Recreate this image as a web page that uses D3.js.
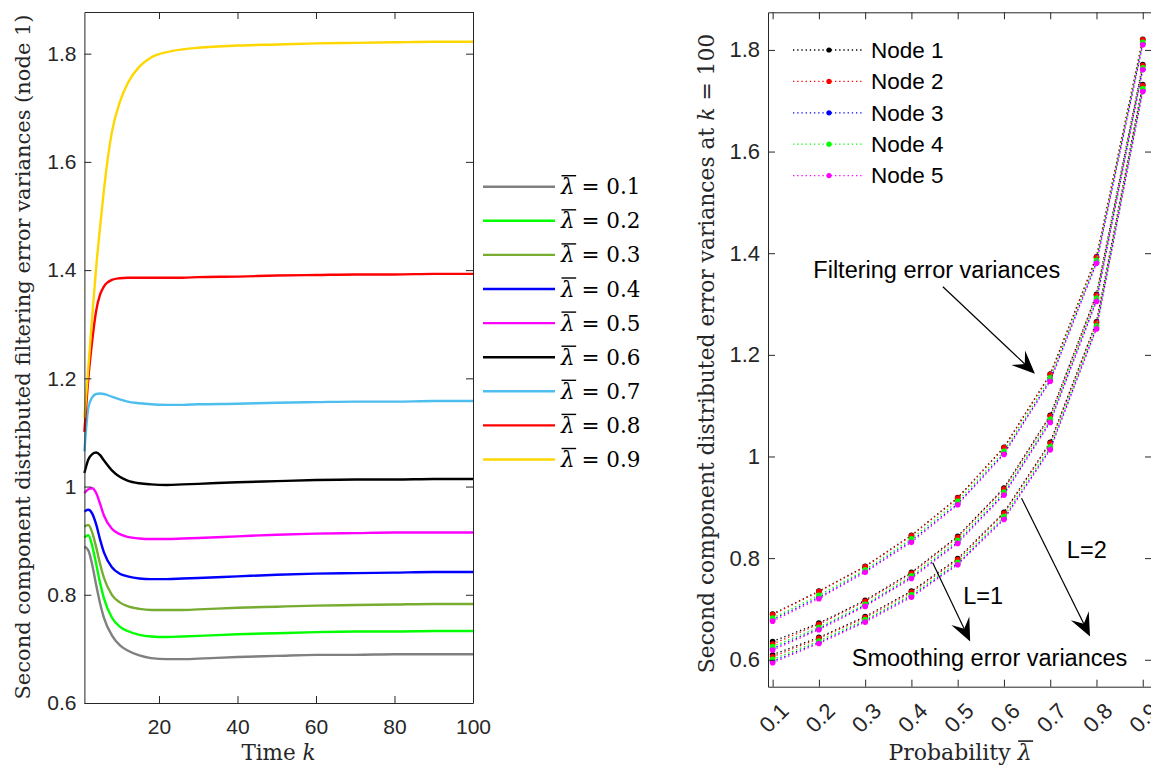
<!DOCTYPE html>
<html>
<head>
<meta charset="utf-8">
<script src="https://cdn.jsdelivr.net/npm/d3@7"></script>
<style>
  html, body { margin: 0; padding: 0; background: #fff; }
  svg { display: block; }
</style>
</head>
<body>
<svg id="chart" width="1151" height="767"></svg>
<script>
// ---------- Left panel: filtering error variance of node 1 over time ----------
const timeSteps = [1, 2, 3, 4, 5, 6, 8, 10, 12, 15, 18, 22, 26, 30, 40, 50, 60, 70, 80, 90, 100];
const lambdaLabels = ['0.1', '0.2', '0.3', '0.4', '0.5', '0.6', '0.7', '0.8', '0.9'];
const lambdaColors = ['#808080', '#00ff00', '#77ac30', '#0000ff', '#ff00ff', '#000000', '#4dbeee', '#ff0000', '#ffd700'];

const varLam01 = [0.889, 0.882, 0.855, 0.818, 0.784, 0.757, 0.725, 0.707, 0.697, 0.688, 0.683, 0.681, 0.681, 0.682, 0.685, 0.687, 0.689, 0.689, 0.690, 0.690, 0.690];
const varLam02 = [0.906, 0.910, 0.890, 0.857, 0.822, 0.793, 0.758, 0.741, 0.733, 0.726, 0.723, 0.722, 0.723, 0.724, 0.727, 0.729, 0.731, 0.732, 0.732, 0.733, 0.733];
const varLam03 = [0.926, 0.929, 0.915, 0.888, 0.857, 0.831, 0.800, 0.786, 0.779, 0.774, 0.772, 0.772, 0.772, 0.773, 0.776, 0.778, 0.780, 0.781, 0.782, 0.783, 0.783];
const varLam04 = [0.954, 0.957, 0.950, 0.930, 0.902, 0.878, 0.851, 0.839, 0.834, 0.830, 0.829, 0.829, 0.830, 0.831, 0.834, 0.837, 0.839, 0.840, 0.841, 0.842, 0.842];
const varLam05 = [0.988, 0.995, 0.997, 0.988, 0.968, 0.946, 0.922, 0.912, 0.907, 0.904, 0.903, 0.903, 0.904, 0.905, 0.908, 0.911, 0.913, 0.914, 0.915, 0.915, 0.915];
const varLam06 = [1.025, 1.050, 1.060, 1.063, 1.058, 1.048, 1.030, 1.018, 1.011, 1.006, 1.004, 1.003, 1.004, 1.005, 1.008, 1.010, 1.012, 1.013, 1.013, 1.014, 1.014];
const varLam07 = [1.065, 1.145, 1.165, 1.171, 1.172, 1.171, 1.166, 1.161, 1.157, 1.154, 1.152, 1.151, 1.151, 1.152, 1.153, 1.155, 1.156, 1.157, 1.157, 1.158, 1.158];
const varLam08 = [1.101, 1.200, 1.270, 1.325, 1.355, 1.370, 1.382, 1.385, 1.386, 1.386, 1.386, 1.386, 1.386, 1.387, 1.388, 1.390, 1.391, 1.392, 1.392, 1.393, 1.393];
const varLam09 = [1.127, 1.220, 1.315, 1.405, 1.480, 1.550, 1.655, 1.710, 1.745, 1.776, 1.793, 1.803, 1.808, 1.811, 1.815, 1.817, 1.819, 1.820, 1.821, 1.822, 1.822];

const leftXTicks = [20, 40, 60, 80, 100];
const varTicks = [0.6, 0.8, 1, 1.2, 1.4, 1.6, 1.8];

// ---------- Right panel: variances at k = 100 versus probability ----------
const probLevels = [0.1, 0.2, 0.3, 0.4, 0.5, 0.6, 0.7, 0.8, 0.9];
const nodeNames = ['Node 1', 'Node 2', 'Node 3', 'Node 4', 'Node 5'];
const nodeColors = ['#000000', '#ff0000', '#0000ff', '#00ff00', '#ff00ff'];

// filtering error variances
const filtNode1 = [0.690, 0.735, 0.784, 0.845, 0.919, 1.018, 1.162, 1.393, 1.821];
const filtNode2 = [0.689, 0.734, 0.783, 0.844, 0.918, 1.017, 1.161, 1.392, 1.820];
const filtNode3 = [0.679, 0.723, 0.774, 0.834, 0.907, 1.006, 1.150, 1.382, 1.812];
const filtNode4 = [0.682, 0.727, 0.777, 0.838, 0.912, 1.010, 1.155, 1.386, 1.815];
const filtNode5 = [0.676, 0.720, 0.772, 0.831, 0.905, 1.004, 1.148, 1.380, 1.810];
// smoothing error variances, L = 1
const smoothL1Node1 = [0.636, 0.672, 0.717, 0.772, 0.843, 0.938, 1.081, 1.319, 1.771];
const smoothL1Node2 = [0.631, 0.670, 0.715, 0.770, 0.841, 0.936, 1.079, 1.317, 1.769];
const smoothL1Node3 = [0.622, 0.661, 0.707, 0.762, 0.831, 0.926, 1.069, 1.307, 1.762];
const smoothL1Node4 = [0.626, 0.664, 0.709, 0.765, 0.835, 0.930, 1.073, 1.311, 1.765];
const smoothL1Node5 = [0.619, 0.659, 0.705, 0.760, 0.829, 0.924, 1.067, 1.305, 1.761];
// smoothing error variances, L = 2
const smoothL2Node1 = [0.610, 0.644, 0.685, 0.735, 0.799, 0.890, 1.028, 1.265, 1.732];
const smoothL2Node2 = [0.606, 0.642, 0.683, 0.733, 0.797, 0.888, 1.026, 1.263, 1.730];
const smoothL2Node3 = [0.597, 0.634, 0.676, 0.725, 0.789, 0.878, 1.015, 1.253, 1.720];
const smoothL2Node4 = [0.601, 0.637, 0.679, 0.728, 0.792, 0.882, 1.019, 1.257, 1.724];
const smoothL2Node5 = [0.594, 0.632, 0.674, 0.723, 0.787, 0.876, 1.013, 1.251, 1.718];

const probTicks = [0.1, 0.2, 0.3, 0.4, 0.5, 0.6, 0.7, 0.8, 0.9];
const probTickLabels = ['0.1', '0.2', '0.3', '0.4', '0.5', '0.6', '0.7', '0.8', '0.9'];

// annotation anchors in data units: [lambda, variance]
const noteFiltText = [0.188, 1.367];
const noteFiltArrow = [[0.468, 1.334], [0.667, 1.163]];
const noteL1Text = [0.512, 0.725];
const noteL1Arrow = [[0.446, 0.791], [0.527, 0.636]];
const noteL2Text = [0.736, 0.817];
const noteL2Arrow = [[0.638, 0.918], [0.786, 0.646]];
const noteSmoothText = [0.271, 0.604];

// ---------- drawing ----------
const svg = d3.select('#chart');
const AX = '#262626';
const SANS = '"Liberation Sans", Arial, Helvetica, sans-serif';
const SERIF = '"DejaVu Serif", "Liberation Serif", serif';
const fmt = d => String(+d.toFixed(1));

function boxAxes(g, x, y, xTicks, yTicks, xFmt, yFmt, fs, xPad) {
  const [x0, x1] = x.range();
  const [y0, y1] = y.range();
  const style = sel => {
    sel.attr('font-size', null).attr('font-family', null);
    sel.select('.domain').attr('stroke', AX).attr('stroke-width', 1);
    sel.selectAll('.tick line').attr('stroke', AX).attr('stroke-width', 1);
    sel.selectAll('.tick text').attr('fill', AX).style('font-family', SANS).style('font-size', fs + 'px');
  };
  g.append('g').attr('transform', `translate(0,${y0})`)
    .call(d3.axisBottom(x).tickValues(xTicks).tickSize(-7).tickSizeOuter(0).tickPadding(xPad).tickFormat(xFmt))
    .call(style);
  g.append('g').attr('transform', `translate(0,${y1})`)
    .call(d3.axisTop(x).tickValues(xTicks).tickSize(-7).tickSizeOuter(0).tickFormat(() => ''))
    .call(style);
  g.append('g').attr('transform', `translate(${x0},0)`)
    .call(d3.axisLeft(y).tickValues(yTicks).tickSize(-7).tickSizeOuter(0).tickPadding(8).tickFormat(yFmt))
    .call(style);
  g.append('g').attr('transform', `translate(${x1},0)`)
    .call(d3.axisRight(y).tickValues(yTicks).tickSize(-7).tickSizeOuter(0).tickFormat(() => ''))
    .call(style);
}

// overline above the italic lambda at a given character index of a text
function overlineLambda(textSel, charIndex, fs) {
  const node = textSel.node();
  const start = node.getStartPositionOfChar(charIndex);
  const w = node.getSubStringLength(charIndex, 1);
  const parent = d3.select(node.parentNode);
  parent.append('line')
    .attr('x1', start.x + 0.5).attr('x2', start.x + w + 1.5)
    .attr('y1', start.y - fs * 0.86).attr('y2', start.y - fs * 0.86)
    .attr('stroke', '#000').attr('stroke-width', 1.4);
}

// ===== left panel =====
const lx = d3.scaleLinear().domain([1, 100]).range([84.4, 473]);
const ly = d3.scaleLinear().domain([0.6, 1.877]).range([703, 12]);
const left = svg.append('g');

const leftSeries = [varLam01, varLam02, varLam03, varLam04, varLam05, varLam06, varLam07, varLam08, varLam09];
const lineL = d3.line().x((d, i) => lx(timeSteps[i])).y(d => ly(d)).curve(d3.curveMonotoneX);
leftSeries.forEach((vals, i) => {
  left.append('path').attr('d', lineL(vals))
    .attr('fill', 'none').attr('stroke', lambdaColors[i]).attr('stroke-width', 2.4)
    .attr('stroke-linejoin', 'round');
});

boxAxes(left, lx, ly, leftXTicks, varTicks, d => String(d), fmt, 21, 16);

left.append('text')
  .attr('x', 278.5).attr('y', 760)
  .attr('text-anchor', 'middle')
  .style('font-family', SERIF).style('font-size', '21.5px').attr('fill', AX)
  .call(t => { t.append('tspan').text('Time '); t.append('tspan').style('font-style', 'italic').text('k'); });

left.append('text')
  .attr('transform', 'translate(30,357) rotate(-90)')
  .attr('text-anchor', 'middle')
  .style('font-family', SERIF).style('font-size', '21px').attr('fill', AX)
  .text('Second component distributed filtering error variances (node 1)');

// legend
const legL = svg.append('g');
lambdaLabels.forEach((lab, i) => {
  const yy = 186.7 + i * 34.1;
  legL.append('line').attr('x1', 483).attr('x2', 555).attr('y1', yy).attr('y2', yy)
    .attr('stroke', lambdaColors[i]).attr('stroke-width', 2.4);
  const t = legL.append('text').attr('x', 561).attr('y', yy + 7.5)
    .style('font-family', SERIF).style('font-size', '21.5px').attr('fill', '#000');
  t.append('tspan').style('font-style', 'italic').text('λ');
  t.append('tspan').text(' = ' + lab);
  overlineLambda(t, 0, 21.5);
});

// ===== right panel =====
const rx = d3.scaleLinear().domain([0.09, 0.92]).range([768, 1152]);
const ry = d3.scaleLinear().domain([0.547, 1.874]).range([686.7, 12.3]);
const right = svg.append('g');

const groups = [
  [filtNode1, filtNode2, filtNode3, filtNode4, filtNode5],
  [smoothL1Node1, smoothL1Node2, smoothL1Node3, smoothL1Node4, smoothL1Node5],
  [smoothL2Node1, smoothL2Node2, smoothL2Node3, smoothL2Node4, smoothL2Node5]
];
const lineR = d3.line().x((d, i) => rx(probLevels[i])).y(d => ry(d));
for (let n = 0; n < 5; n++) {
  groups.forEach(gr => {
    right.append('path').attr('d', lineR(gr[n]))
      .attr('fill', 'none').attr('stroke', nodeColors[n]).attr('stroke-width', 1.3)
      .attr('stroke-dasharray', '1.3,2.9');
    right.selectAll(null).data(gr[n]).enter().append('circle')
      .attr('cx', (d, i) => rx(probLevels[i])).attr('cy', d => ry(d)).attr('r', 2.8)
      .attr('fill', nodeColors[n]);
  });
}

boxAxes(right, rx, ry, probTicks, varTicks, () => '', fmt, 22, 8);

// rotated probability tick labels
right.selectAll('.plab').data(probTicks).enter().append('text')
  .attr('transform', (d) => `translate(${rx(d) + 12},${707}) rotate(-45)`)
  .attr('text-anchor', 'end').attr('dy', '0.35em')
  .style('font-family', SANS).style('font-size', '22px').attr('fill', AX)
  .text((d, i) => probTickLabels[i]);

// axis labels
const xlab = right.append('text').attr('y', 760)
  .style('font-family', SERIF).style('font-size', '22px').attr('fill', AX);
xlab.append('tspan').text('Probability ');
xlab.append('tspan').style('font-style', 'italic').text('λ');
const xw = xlab.node().getComputedTextLength();
xlab.attr('x', 960 - xw / 2);
overlineLambda(xlab, 12, 22);

right.append('text')
  .attr('transform', 'translate(714,353.5) rotate(-90)')
  .attr('text-anchor', 'middle')
  .style('font-family', SERIF).style('font-size', '21.8px').attr('fill', AX)
  .call(t => {
    t.append('tspan').text('Second component distributed error variances at ');
    t.append('tspan').style('font-style', 'italic').text('k');
    t.append('tspan').text(' = 100');
  });

// legend
const legR = svg.append('g');
nodeNames.forEach((nm, i) => {
  const yy = 50 + i * 31.4;
  legR.append('line').attr('x1', 793).attr('x2', 864).attr('y1', yy).attr('y2', yy)
    .attr('stroke', nodeColors[i]).attr('stroke-width', 1.3).attr('stroke-dasharray', '1.3,2.9');
  legR.append('circle').attr('cx', 829).attr('cy', yy).attr('r', 2.6).attr('fill', nodeColors[i]);
  legR.append('text').attr('x', 871).attr('y', yy).attr('dy', '0.35em')
    .style('font-family', SANS).style('font-size', '22.5px').attr('fill', '#000').text(nm);
});

// annotations
function arrow(g, p0, p1) {
  const x0 = rx(p0[0]), y0 = ry(p0[1]), x1 = rx(p1[0]), y1 = ry(p1[1]);
  const dx = x1 - x0, dy = y1 - y0, L = Math.hypot(dx, dy);
  const ux = dx / L, uy = dy / L, nx = -uy, ny = ux;
  const hl = 23, hw = 10, notch = 14;
  g.append('line').attr('x1', x0).attr('y1', y0)
    .attr('x2', x1 - ux * notch).attr('y2', y1 - uy * notch)
    .attr('stroke', '#000').attr('stroke-width', 1.2);
  const pts = [
    [x1, y1],
    [x1 - ux * hl + nx * hw, y1 - uy * hl + ny * hw],
    [x1 - ux * notch, y1 - uy * notch],
    [x1 - ux * hl - nx * hw, y1 - uy * hl - ny * hw]
  ];
  g.append('polygon').attr('points', pts.map(p => p.join(',')).join(' ')).attr('fill', '#000');
}
const notes = svg.append('g');
const noteText = (pos, str) => notes.append('text')
  .attr('x', rx(pos[0])).attr('y', ry(pos[1])).attr('dy', '0.35em')
  .style('font-family', SANS).style('font-size', '23.5px').attr('fill', '#000').text(str);
noteText(noteFiltText, 'Filtering error variances');
noteText(noteL1Text, 'L=1');
noteText(noteL2Text, 'L=2');
noteText(noteSmoothText, 'Smoothing error variances');
arrow(notes, noteFiltArrow[0], noteFiltArrow[1]);
arrow(notes, noteL1Arrow[0], noteL1Arrow[1]);
arrow(notes, noteL2Arrow[0], noteL2Arrow[1]);
</script>
</body>
</html>
